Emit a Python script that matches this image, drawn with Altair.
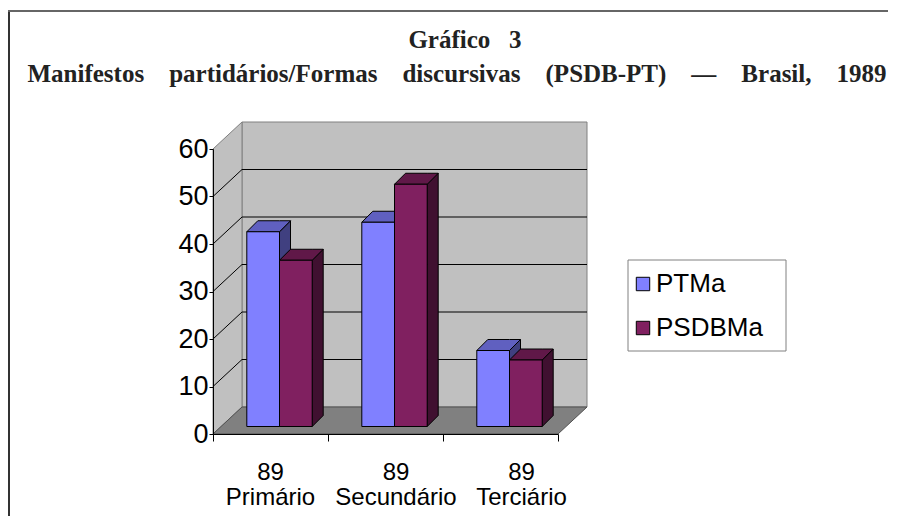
import altair as alt
import pandas as pd

# ---------------- data ----------------
categories = ["Primário", "Secundário", "Terciário"]
year_label = "89"
series_names = ["PTMa", "PSDBMa"]
pt_values = [41, 43, 16]
psdb_values = [35, 51, 14]
y_tick_values = [0, 10, 20, 30, 40, 50, 60]
title_line1 = "Gráfico\u00a0\u00a0\u00a03"
title_words = ["Manifestos", "partidários/Formas", "discursivas", "(PSDB-PT)", "—", "Brasil,", "1989"]

# ---------------- styles / geometry ----------------
front_colors = ["#8080FF", "#802060"]
top_colors = ["#6060C0", "#601848"]
side_colors = ["#404080", "#401030"]
WALL = "#C0C0C0"
FLOOR = "#808080"
EDGE = "#808080"

W, H = 345, 285          # plot area (front plane of the 3D box)
YMAX = 60
K = H / YMAX             # px per unit
DX, DY = 29, 27          # depth of the box (px)
FX, FY = 9, 7.5          # depth shift of bar front faces (px)
BX, BY = 20, 18.5        # depth shift of bar back faces (px)
SLOT = W / len(categories)
BAR_W = 32.7
GAP = (SLOT - 2 * BAR_W) / 2
LABEL_DRIFT = 10.5

DYu, FYu, BYu = DY / K, FY / K, BY / K

xs = alt.Scale(domain=[0, W], nice=False, zero=False)
ys = alt.Scale(domain=[0, YMAX], nice=False, zero=False)
x_axis = alt.Axis(values=[0, SLOT, 2 * SLOT, W], labels=False, tickSize=7, tickColor="black",
                  domainColor="black", grid=False, title=None, zindex=1)
y_axis = alt.Axis(values=y_tick_values, tickSize=4, labelPadding=1, labelFontSize=27,
                  labelFont="Liberation Sans", labelColor="black", tickColor="black",
                  domainColor="black", grid=False, title=None, zindex=1)


def X(f="x"):
    return alt.X(f"{f}:Q", scale=xs, axis=x_axis)


def Y(f="y"):
    return alt.Y(f"{f}:Q", scale=ys, axis=y_axis)


# ---------------- walls ----------------
back_df = pd.DataFrame({"x": [DX], "x2": [W + DX], "y": [DYu], "y2": [YMAX + DYu]})
left_df = pd.DataFrame({"x": [0, DX], "y": [0, DYu], "y2": [YMAX, YMAX + DYu]})
floor_df = pd.DataFrame({"x": [0, DX, W, W + DX], "y": [0, 0, 0, DYu], "y2": [0, DYu, DYu, DYu]})
grid_vals = y_tick_values[1:-1]
grid_df = pd.DataFrame({"x": [DX] * len(grid_vals), "x2": [W + DX] * len(grid_vals),
                        "y": [v + DYu for v in grid_vals], "y2": [v + DYu for v in grid_vals]})
diag_df = pd.DataFrame({"x": [0] * len(grid_vals), "x2": [DX] * len(grid_vals),
                        "y": grid_vals, "y2": [v + DYu for v in grid_vals]})

back = alt.Chart(back_df).mark_rect(fill=WALL, stroke=EDGE, strokeWidth=1).encode(
    x=X(), x2="x2", y=Y(), y2="y2")
left = alt.Chart(left_df).mark_area(fill=WALL, stroke=EDGE, strokeWidth=1).encode(
    x=X(), y=Y(), y2="y2")
floor = alt.Chart(floor_df).mark_area(fill=FLOOR, stroke="#505050", strokeWidth=1).encode(
    x=X(), y=Y(), y2="y2")
grid = alt.Chart(grid_df).mark_rule(color="black", strokeWidth=1).encode(
    x=X(), x2="x2", y=Y(), y2="y2")
diag = alt.Chart(diag_df).mark_rule(color="black", strokeWidth=1).encode(
    x=X(), x2="x2", y=Y(), y2="y2")

# ---------------- bars ----------------
front_rows, top_rows, side_rows = [], [], []
for j, vals in enumerate([pt_values, psdb_values]):
    for i, v in enumerate(vals):
        x0 = SLOT * i + GAP + BAR_W * j
        bid = f"{i}-{j}"
        front_rows.append({"x": x0 + FX, "x2": x0 + BAR_W + FX, "y": FYu, "y2": v + FYu,
                           "series": series_names[j]})
        for xx, a, b in [(x0 + FX, v + FYu, v + FYu), (x0 + BX, v + FYu, v + BYu),
                         (x0 + BAR_W + FX, v + FYu, v + BYu), (x0 + BAR_W + BX, v + BYu, v + BYu)]:
            top_rows.append({"x": xx, "y": a, "y2": b, "bar": bid, "fill": top_colors[j]})
        for xx, a, b in [(x0 + BAR_W + FX, FYu, v + FYu), (x0 + BAR_W + BX, BYu, v + BYu)]:
            side_rows.append({"x": xx, "y": a, "y2": b, "bar": bid, "fill": side_colors[j]})

sides = alt.Chart(pd.DataFrame(side_rows)).mark_area(stroke="black", strokeWidth=1).encode(
    x=X(), y=Y(), y2="y2", detail="bar:N", fill=alt.Fill("fill:N", scale=None))
tops = alt.Chart(pd.DataFrame(top_rows)).mark_area(stroke="black", strokeWidth=1).encode(
    x=X(), y=Y(), y2="y2", detail="bar:N", fill=alt.Fill("fill:N", scale=None))
fronts = alt.Chart(pd.DataFrame(front_rows)).mark_rect(stroke="black", strokeWidth=1).encode(
    x=X(), x2="x2", y=Y(), y2="y2",
    color=alt.Color("series:N", scale=alt.Scale(domain=series_names, range=front_colors),
                    legend=alt.Legend(orient="none", legendX=417, legendY=122, title=None,
                                      symbolType="square", symbolSize=180,
                                      symbolStrokeColor="black", symbolStrokeWidth=1,
                                      labelFontSize=26, labelFont="Liberation Sans",
                                      labelColor="black", rowPadding=18, labelOffset=0,
                                      padding=0)))

# ---------------- category labels ----------------
lab_df = pd.DataFrame({"x": [SLOT * (i + 0.5) + LABEL_DRIFT * i for i in range(len(categories))],
                       "label": [f"{year_label}\n{c}" for c in categories]})
labels = alt.Chart(lab_df).mark_text(lineBreak="\n", align="center", baseline="alphabetic",
                                     fontSize=24, font="Liberation Sans", color="black",
                                     lineHeight=25).encode(
    x=X(), y=alt.value(H + 46), text="label:N")

# ---------------- decorations ----------------
one = pd.DataFrame({"a": [0]})
legend_box = alt.Chart(one).mark_rect(fill="white", stroke="#808080", strokeWidth=1).encode(
    x=alt.value(415), x2=alt.value(573), y=alt.value(111), y2=alt.value(202))
t1 = alt.Chart(one).mark_text(text=title_line1, font="Liberation Serif", fontWeight="bold",
                              fontSize=25, color="#222222", align="center",
                              baseline="alphabetic").encode(x=alt.value(252), y=alt.value(-101))
t2 = alt.Chart(one).mark_text(text=("\u00a0" * 4).join(title_words), font="Liberation Serif",
                              fontWeight="bold", fontSize=25, color="#222222", align="center",
                              baseline="alphabetic").encode(x=alt.value(244), y=alt.value(-67))
frame_left = alt.Chart(one).mark_rule(color="#333333", strokeWidth=2).encode(
    x=alt.value(-204), y=alt.value(-138), y2=alt.value(H + 82))
frame_top = alt.Chart(one).mark_rule(color="#666666", strokeWidth=2).encode(
    x=alt.value(-205), x2=alt.value(W + 330), y=alt.value(-138))

chart = alt.layer(back, left, floor, grid, diag, sides, tops, fronts, labels, legend_box,
                  t1, t2, frame_left, frame_top).properties(
    width=W, height=H,
    autosize=alt.AutoSizeParams(type="none"),
    padding={"left": 205, "top": 141, "right": 330, "bottom": 82},
    background="white",
).configure_view(stroke=None)

chart.save("out.html", embed_options={"renderer": "svg", "actions": False})
